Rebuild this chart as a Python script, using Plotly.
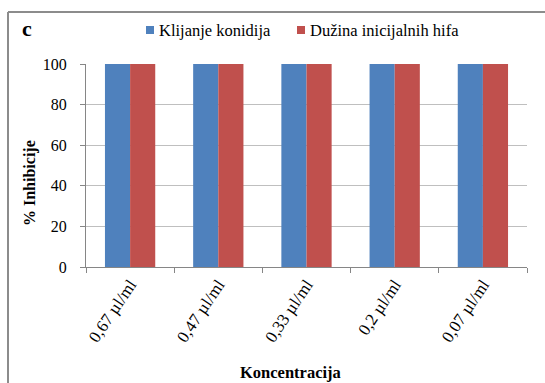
import plotly.graph_objects as go

categories = ["0,67 µl/ml", "0,47 µl/ml", "0,33 µl/ml", "0,2 µl/ml", "0,07 µl/ml"]
klijanje = [100, 100, 100, 100, 100]
duzina = [100, 100, 100, 100, 100]
y_ticks = [0, 20, 40, 60, 80, 100]

series_names = ["Klijanje konidija", "Dužina inicijalnih hifa"]
series_colors = ["#4f81bd", "#c0504d"]

W, H = 545, 383
L, R, T, B = 86, 18, 64, 116
pw, ph = W - L - R, H - T - B

def px(x):
    return (x - L) / pw

def py(y):
    return 1 - (y - T) / ph

FONT = "Liberation Serif"

fig = go.Figure()
for vals, name, color in zip([klijanje, duzina], series_names, series_colors):
    fig.add_trace(go.Bar(x=categories, y=vals, name=name, showlegend=False,
                         marker=dict(color=color, line=dict(width=0))))

# legend row: small square swatch followed by the series name
legend_swatch_x = [146, 297]
shapes = []
annotations = []
for sx, name, color in zip(legend_swatch_x, series_names, series_colors):
    shapes.append(dict(type="rect", xref="paper", yref="paper",
                       x0=px(sx), x1=px(sx + 8), y0=py(34), y1=py(26),
                       fillcolor=color, line=dict(width=0)))
    annotations.append(dict(text=name, x=px(sx + 11), y=py(30), xref="paper", yref="paper",
                            showarrow=False, xanchor="left", yanchor="middle",
                            font=dict(family=FONT, size=16.5)))

# chart-area frame (top and left edges)
shapes += [
    dict(type="line", xref="paper", yref="paper", x0=px(8), x1=px(8), y0=py(12), y1=py(H + 5),
         line=dict(color="#8c8c8c", width=2)),
    dict(type="line", xref="paper", yref="paper", x0=px(8), x1=px(W + 5), y0=py(12), y1=py(12),
         line=dict(color="#8c8c8c", width=2)),
]

annotations += [
    dict(text="<b>c</b>", x=px(27), y=py(29), xref="paper", yref="paper",
         showarrow=False, font=dict(family=FONT, size=22), xanchor="center", yanchor="middle"),
    dict(text="<b>% Inhibicije</b>", x=px(30), y=py(183), xref="paper", yref="paper",
         showarrow=False, textangle=-90, font=dict(family=FONT, size=16),
         xanchor="center", yanchor="middle"),
    dict(text="<b>Koncentracija</b>", x=px(290), y=py(372), xref="paper", yref="paper",
         showarrow=False, font=dict(family=FONT, size=16.5),
         xanchor="center", yanchor="middle"),
]

fig.update_layout(
    width=W, height=H,
    margin=dict(l=L, r=R, t=T, b=B),
    paper_bgcolor="white", plot_bgcolor="white",
    barmode="group", bargap=0.43, bargroupgap=0,
    font=dict(family=FONT, size=16, color="black"),
    showlegend=False,
    xaxis=dict(
        showline=True, linecolor="#868686", linewidth=1,
        ticks="outside", ticklen=5, tickcolor="#868686", tickson="boundaries",
        tickangle=-56, tickfont=dict(family=FONT, size=17),
        showgrid=False,
    ),
    yaxis=dict(
        range=[0, 100], tickvals=y_ticks,
        showline=True, linecolor="#868686", linewidth=1,
        ticks="outside", ticklen=5, tickcolor="#868686",
        showgrid=True, gridcolor="#bfbfbf", gridwidth=1,
        tickfont=dict(family=FONT, size=16), zeroline=False,
        ticklabelstandoff=10,
    ),
    annotations=annotations,
    shapes=shapes,
)

fig.write_html("out.html")
